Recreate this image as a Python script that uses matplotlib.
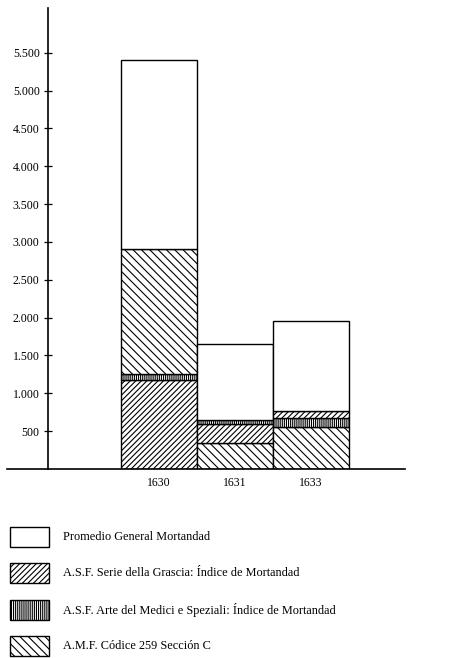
import numpy as np
import matplotlib as mpl
mpl.use('Agg')
import matplotlib.pyplot as plt
from matplotlib.patches import Rectangle

# data
years = ['1630', '1631', '1633']
total = [5400, 1650, 1950]      # top of each column (Promedio General Mortandad)
grascia = [1180, 240, 90]       # A.S.F. Serie della Grascia
arte = [70, 60, 130]            # A.S.F. Arte del Medici e Speziali
codice = [1650, 350, 550]       # A.M.F. Codice 259 Seccion C
# stacking order (bottom to top) for each column
orders = [['grascia', 'arte', 'codice'],
          ['codice', 'grascia', 'arte'],
          ['codice', 'arte', 'grascia']]
yticks = [500, 1000, 1500, 2000, 2500, 3000, 3500, 4000, 4500, 5000, 5500]

series = {'grascia': grascia, 'arte': arte, 'codice': codice}
hatches = {'grascia': '/'*6, 'arte': '|'*8, 'codice': '\\'*4}
labels = ['Promedio General Mortandad',
          'A.S.F. Serie della Grascia: Índice de Mortandad',
          'A.S.F. Arte del Medici e Speziali: Índice de Mortandad',
          'A.M.F. Códice 259 Sección C']

plt.rcParams['font.family'] = ['Liberation Serif', 'DejaVu Serif']
plt.rcParams['hatch.linewidth'] = 0.8

W, H = 449, 658
fig = plt.figure(figsize=[W/100, H/100], dpi=100)
ax = fig.add_axes([7/W, 189/H, 398/W, 461/H])

for i, yr in enumerate(years):
    b = 0
    for key in orders[i]:
        v = series[key][i]
        ax.bar(i, v, bottom=b, width=1, facecolor='white', edgecolor='black',
               linewidth=1.0, hatch=hatches[key])
        b += v
    ax.bar(i, total[i]-b, bottom=b, width=1, facecolor='white',
           edgecolor='black', linewidth=1.0)

ax.set_xlim(-1.996, 3.241)
ax.set_ylim(0, 6090)
ax.spines['top'].set_visible(False)
ax.spines['right'].set_visible(False)
ax.spines['left'].set_position(('data', -1.457))
ax.spines['left'].set_linewidth(1.2)
ax.spines['bottom'].set_linewidth(1.2)

ax.set_yticks(yticks)
ax.set_yticklabels([f'{t:,}'.replace(',', '.') for t in yticks], fontsize=8.6)
ax.tick_params(axis='y', direction='inout', length=6, width=0.9, pad=3)
ax.set_xticks(range(len(years)))
ax.set_xticklabels(years, fontsize=8.5)
ax.tick_params(axis='x', length=0, pad=6)

# legend drawn by hand under the chart
box_y = [537, 573, 610, 646]
leg_hatch = [None, '/'*6, '|'*8, '\\'*4]
for yc, lab, h in zip(box_y, labels, leg_hatch):
    r = Rectangle((10/W, 1-(yc+10)/H), 39/W, 20/H, transform=fig.transFigure,
                  facecolor='white', edgecolor='black', linewidth=1.0, hatch=h)
    fig.add_artist(r)
    fig.text(63/W, 1-yc/H, lab, fontsize=8.8, va='center', ha='left')

plt.savefig('out.png', dpi=100)
